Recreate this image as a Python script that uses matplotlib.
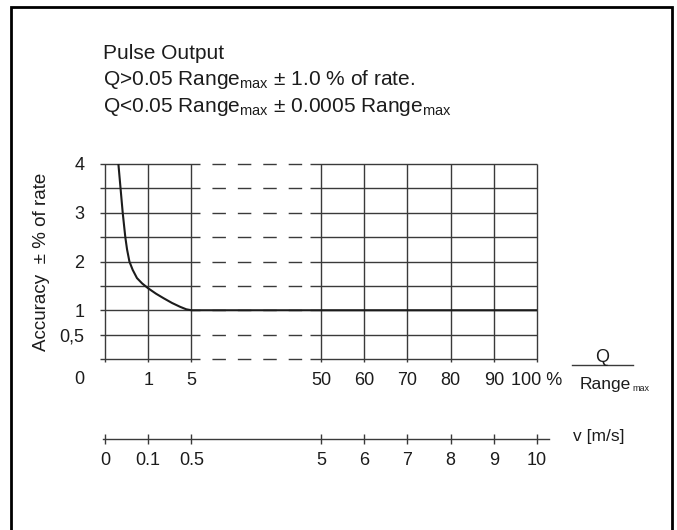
import numpy as np
import matplotlib
matplotlib.use("Agg")
import matplotlib.pyplot as plt
from matplotlib.lines import Line2D
from matplotlib.patches import Rectangle

plt.rcParams["font.family"] = ["Liberation Sans", "DejaVu Sans"]
plt.rcParams["mathtext.fontset"] = "custom"
plt.rcParams["mathtext.rm"] = "Liberation Sans"

# flow axis (Q / Range_max in %) is broken: 0-1-5 | gap | 50..100
flow_breaks = [0, 1, 5, 50, 100]
flow_slots = [0, 1, 2, 5, 10]
flow_ticks = [1, 5, 50, 60, 70, 80, 90, 100]
flow_labels = ["1", "5", "50", "60", "70", "80", "90", "100 %"]

# velocity axis below, same slots
v_ticks = [0, 0.1, 0.5, 5, 6, 7, 8, 9, 10]
v_labels = ["0", "0.1", "0.5", "5", "6", "7", "8", "9", "10"]

acc_ticks = [0.5, 1, 2, 3, 4]
acc_labels = ["0,5", "1", "2", "3", "4"]
grid_levels = [0, 0.5, 1, 1.5, 2, 2.5, 3, 3.5, 4]

# accuracy curve
curve_flow = [0.31, 0.33, 0.36, 0.385, 0.41, 0.44, 0.47, 0.51, 0.565, 0.64,
              0.74, 0.86, 1.0, 1.72, 2.44, 3.2, 3.96, 4.52, 5.0, 100]
curve_acc = [4.0, 3.8, 3.5, 3.25, 3.0, 2.75, 2.5, 2.25, 2.0, 1.83,
             1.66, 1.55, 1.45, 1.34, 1.245, 1.15, 1.07, 1.02, 1.0, 1.0]

# piecewise linear scale, extended a bit past both ends
fb = [-10] + flow_breaks + [200]
fs = [-10] + flow_slots + [20]


def fwd(x):
    return np.interp(x, fb, fs)


def inv(s):
    return np.interp(s, fs, fb)


def vfwd(v):
    return np.interp(np.asarray(v) * 10, fb, fs)


def vinv(s):
    return np.interp(s, fs, fb) / 10


W, H = 677, 530


def fx(px):
    return px / W


def fy(py):
    return 1 - py / H


INK = "#1c1c1c"
GRID = "#3a3a3a"

fig = plt.figure(figsize=(6.77, 5.30), dpi=100)

ax = fig.add_axes([fx(105), fy(359), (537 - 105) / W, (359 - 164) / H])
ax.set_xscale("function", functions=(fwd, inv))
ax.set_xlim(0, 100)
ax.set_ylim(0, 4)
for s in ax.spines.values():
    s.set_visible(False)

# horizontal grid: solid, dashed across the break, solid
gap_a, gap_b = inv(2.21), inv(4.74)
ax.hlines(grid_levels, inv(-0.12), gap_a, color=GRID, lw=1.0, clip_on=False)
ax.hlines(grid_levels, gap_a, gap_b, color=GRID, lw=1.0,
          linestyles=[(9.7, (9.7, 8.6))], clip_on=False)
ax.hlines(grid_levels, gap_b, 100, color=GRID, lw=1.0, clip_on=False)
ax.vlines([0] + flow_ticks, -0.07, 4, color=GRID, lw=1.0, clip_on=False)

ax.plot(curve_flow, curve_acc, color=INK, lw=1.5, clip_on=False,
        solid_capstyle="butt")

ax.set_xticks(flow_ticks, flow_labels)
ax.set_yticks(acc_ticks, acc_labels)
ax.tick_params(axis="x", length=0, pad=9.7, labelsize=13, labelcolor=INK)
ax.tick_params(axis="y", length=0, pad=15, labelsize=13, labelcolor=INK)
ax.xaxis.set_minor_locator(plt.NullLocator())
ax.annotate("0", xy=(0, 0), xytext=(-15.1, -14.4), textcoords="offset points",
            ha="right", va="center", fontsize=13, color=INK)

# velocity axis
ax2 = fig.add_axes([fx(105), fy(439), (537 - 105) / W, 0.01])
ax2.set_xscale("function", functions=(vfwd, vinv))
ax2.set_xlim(0, 10)
ax2.set_ylim(0, 1)
for s in ax2.spines.values():
    s.set_visible(False)
ax2.plot([vinv(-0.05), vinv(10.28)], [0, 0], color=GRID, lw=1.0, clip_on=False)
ax2.set_xticks(v_ticks, v_labels)
ax2.set_yticks([])
ax2.xaxis.set_minor_locator(plt.NullLocator())
ax2.tick_params(axis="x", direction="inout", length=6.5, width=1.0,
                color=GRID, pad=6.4, labelsize=13, labelcolor=INK)
ax2.patch.set_visible(False)

# texts
fig.text(fx(103), fy(59), "Pulse Output", fontsize=15, color=INK, va="baseline")
fig.text(fx(103), fy(85), r"Q>0.05 Range$_\mathrm{max}$ ± 1.0 % of rate.",
         fontsize=15, color=INK, va="baseline")
fig.text(fx(103), fy(112), r"Q<0.05 Range$_\mathrm{max}$ ± 0.0005 Range$_\mathrm{max}$",
         fontsize=15, color=INK, va="baseline")

fig.text(fx(42), fy(262), "Accuracy  ± % of rate", rotation=90, fontsize=13.5,
         color=INK, ha="center", va="center")

# Q / Range_max fraction
fig.text(fx(602), fy(357), "Q", fontsize=13, color=INK, ha="center", va="center")
fig.add_artist(Line2D([fx(572), fx(633)], [fy(365), fy(365)], color=GRID, lw=1.0))
rng = fig.text(fx(580), fy(389), "Range", fontsize=12.5, color=INK, va="baseline")
renderer = fig.canvas.get_renderer()
bb = rng.get_window_extent(renderer)
fig.text(bb.x1 / W + fx(1), fy(391), "max", fontsize=6.5, color=INK, va="baseline")

fig.text(fx(573), fy(437), "v [m/s]", fontsize=12.5, color=INK, va="center")

fig.add_artist(Rectangle((fx(11), fy(560)), fx(672) - fx(11), fy(7) - fy(560),
                         transform=fig.transFigure, fill=False, lw=2.0,
                         edgecolor="black"))

fig.savefig("out.png", dpi=100)
